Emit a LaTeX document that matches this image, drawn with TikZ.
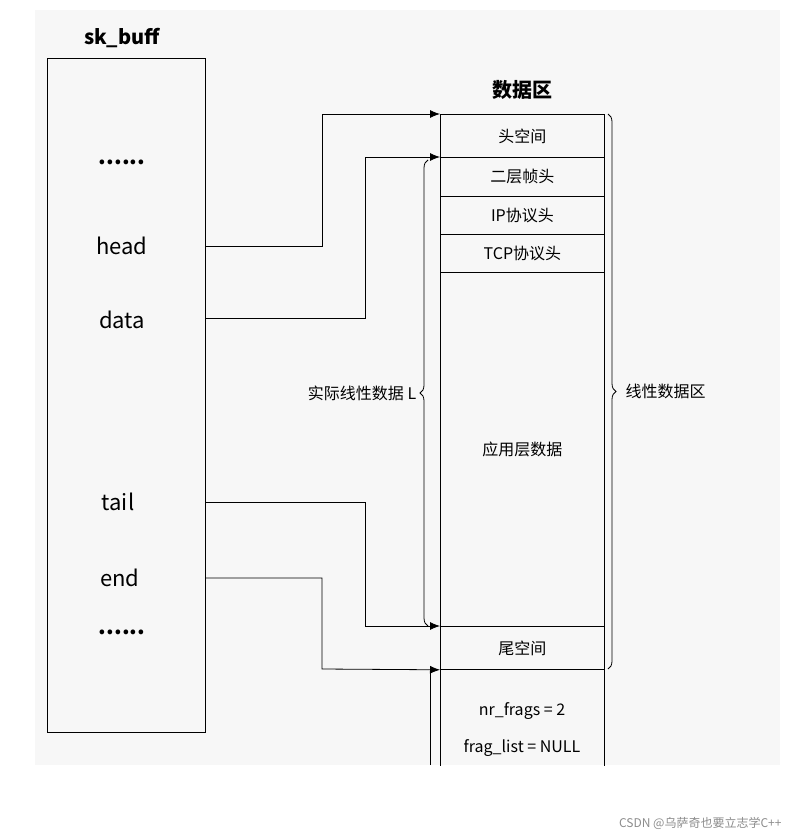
\documentclass[tikz,border=0pt]{standalone}
\usepackage{fontspec}
\setmainfont{Noto Sans CJK SC}
\usetikzlibrary{arrows.meta,positioning,decorations.pathreplacing}
\tikzstyle{arrow} = [thick,-{Latex[length=10pt,width=8pt]}]
\tikzstyle{cell}  = [draw, thick, minimum width=164pt, inner sep=0pt, anchor=north west]
\begin{document}
\begin{tikzpicture}[x=1pt,y=-1pt,font=\fontsize{16}{18}\selectfont,
    fld/.style={font=\fontsize{22}{24}\selectfont},
    brace/.style={thick,decorate,decoration={brace,amplitude=8pt}}]
  \useasboundingbox (0,0) rectangle (792,837);
  \fill[black!3] (35,10) rectangle (780,765);

  % sk_buff structure
  \node[font=\fontsize{20}{22}\selectfont\bfseries] (skname) at (122,38) {sk\_buff};
  \draw[thick] (47,58) rectangle (205,732);
  \node[fld,font=\fontsize{22}{24}\selectfont\bfseries] (dots1) at (122,162) {......};
  \node[fld] (head)  at (122,246) {head};
  \node[fld] (data)  at (122,320) {data};
  \node[fld] (tail)  at (118,502) {tail};
  \node[fld] (end)   at (120,578) {end};
  \node[fld,font=\fontsize{22}{24}\selectfont\bfseries] (dots2) at (122,632) {......};
  \coordinate (headr) at (205,246);
  \coordinate (datar) at (205,318);
  \coordinate (tailr) at (205,502);
  \coordinate (endr)  at (205,578);

  % data area
  \node[font=\fontsize{20}{22}\selectfont\bfseries] (dname) at (522,90) {数据区};
  \node[cell, minimum height=43pt] (hroom) at (440,114) {头空间};
  \node[cell, minimum height=39pt] (l2)    at (440,157) {二层帧头};
  \node[cell, minimum height=38pt] (ip)    at (440,196) {IP协议头};
  \node[cell, minimum height=38pt] (tcp)   at (440,234) {TCP协议头};
  \node[cell, minimum height=354pt] (app)  at (440,272) {应用层数据};
  \node[cell, minimum height=43pt] (troom) at (440,626) {尾空间};
  \draw[thick] (troom.south west) -- ++(0,96);
  \draw[thick] (troom.south east) -- ++(0,96);
  \node (nr)   at (522,711) {nr\_frags = 2};
  \node (flst) at (522,748) {frag\_list = NULL};

  % pointers
  \draw[arrow] (headr) -| (322,114) -- (hroom.north west);
  \draw[arrow] (datar) -| (365,157) -- (l2.north west);
  \draw[arrow] (tailr) -| (365,626) -- (troom.north west);
  \draw[arrow] (endr)  -| (322,669) -- (troom.south west);
  \draw[thick] (430,765) -- (430,672);

  % braces
  \draw[brace] (428,626) -- (428,160) node[midway,left=8pt] (lin) {实际线性数据 L};
  \draw[brace] (608,114) -- (608,669) node[midway,right=14pt] (lina) {线性数据区};

  \node[text=black!45, font=\fontsize{12}{14}\selectfont, anchor=east] (mark) at (785,823) {CSDN @乌萨奇也要立志学C++};
\end{tikzpicture}
\end{document}
